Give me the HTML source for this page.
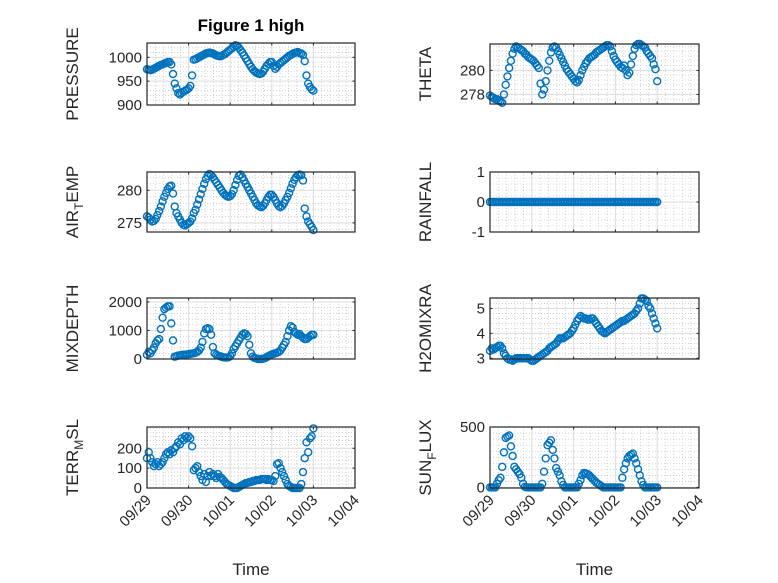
<!DOCTYPE html>
<html><head><meta charset="utf-8"><style>
html,body{margin:0;padding:0;background:#fff;}
svg{display:block;font-family:"Liberation Sans",sans-serif;}
</style></head><body>
<svg id="fig" width="778" height="583" viewBox="0 0 778 583" xmlns="http://www.w3.org/2000/svg">
<rect width="778" height="583" fill="#fff"/>
<text x="251" y="31" text-anchor="middle" font-size="17" font-weight="bold" fill="#000">Figure 1 high</text>
</svg>
<script>
const xTickLabels = ["09/29","09/30","10/01","10/02","10/03","10/04"];
const pressure = [975,974,973,974,976,978,980,982,984,985,987,988,990,990,985,965,945,935,925,922,925,928,930,932,935,940,962,995,996,998,1000,1002,1004,1006,1008,1009,1010,1009,1008,1006,1004,1003,1002,1003,1005,1007,1010,1013,1016,1019,1022,1025,1024,1020,1015,1010,1004,998,992,986,980,975,971,968,966,965,966,970,976,982,986,990,990,982,976,980,985,988,991,994,997,1000,1003,1005,1007,1009,1010,1011,1009,1008,1005,992,962,945,938,933,930];
const airTemp = [276,275.8,275.5,275.2,275.3,275.6,276.2,276.8,277.5,278.3,279,279.6,280.2,280.6,280.7,279.5,277.5,276.5,276,275.5,275,274.7,274.6,274.8,275,275.2,275.7,276.5,277,277.8,278.6,279.4,280.2,281,281.7,282.2,282.5,282.3,282,281.6,281.2,280.8,280.4,280,279.6,279.3,279.1,279,279.1,279.4,280,280.8,281.6,282.2,282.4,282,281.5,281,280.5,280,279.5,279,278.5,278,277.7,277.5,277.4,277.6,278,278.5,279,279.3,279.3,279,278.5,278,277.6,277.4,277.6,278,278.5,279,279.6,280.3,281,281.6,282,282.3,282.4,282.3,281.5,277.2,276,275.2,274.8,274.4,273.9];
const theta = [277.9,277.8,277.7,277.6,277.6,277.5,277.4,277.3,278,278.8,279.5,280.2,280.8,281.4,281.8,282,281.9,281.8,281.7,281.6,281.4,281.3,281.1,281,280.9,280.8,280.6,280.4,280.2,278.9,278,278.4,279.1,280,280.8,281.5,281.9,282,281.9,281.6,281.3,281,280.7,280.4,280.1,279.9,279.7,279.5,279.3,279.1,279,279.2,279.6,280,280.3,280.6,280.8,281,281.1,281.2,281.3,281.5,281.6,281.7,281.8,281.9,282,282.1,282.1,282,281.6,281.2,280.9,280.7,280.5,280.3,280.2,280.4,280,279.6,279.8,280.5,281.2,281.8,282.1,282.2,282.2,282.1,282,281.9,281.6,281.4,281.2,281,280.5,280.1,279.1];
const rainfall = [0,0,0,0,0,0,0,0,0,0,0,0,0,0,0,0,0,0,0,0,0,0,0,0,0,0,0,0,0,0,0,0,0,0,0,0,0,0,0,0,0,0,0,0,0,0,0,0,0,0,0,0,0,0,0,0,0,0,0,0,0,0,0,0,0,0,0,0,0,0,0,0,0,0,0,0,0,0,0,0,0,0,0,0,0,0,0,0,0,0,0,0,0,0,0,0,0];
const mixDepth = [150,250,200,300,400,550,650,700,1050,1450,1750,1800,1850,1850,1250,650,80,100,120,130,140,150,150,160,170,180,190,200,220,250,300,400,600,900,1050,1080,1050,850,420,200,150,120,100,80,60,50,50,60,100,200,350,450,550,650,750,850,900,880,800,500,200,80,40,20,0,0,0,10,30,60,100,130,160,180,200,220,250,300,400,500,600,800,1000,1150,1100,950,900,850,880,800,750,700,700,750,800,850,850];
const terrMsl = [150,180,150,130,110,120,130,110,120,130,150,170,180,170,190,180,200,210,230,220,250,240,260,250,260,250,210,90,100,110,80,60,40,70,30,60,80,60,70,60,50,70,55,50,40,30,20,15,10,5,0,0,0,5,10,15,20,25,25,30,30,35,35,40,40,40,45,45,45,40,45,40,40,35,60,120,125,100,80,60,40,20,10,5,0,0,0,0,0,20,80,150,230,180,250,260,300];
const h2oMixra = [3.3,3.4,3.35,3.4,3.45,3.5,3.5,3.4,3.2,3.1,3.0,2.95,2.95,2.9,2.95,3.0,3.0,3.0,3.0,3.0,3.0,3.0,3.0,2.95,2.9,2.9,2.95,3.0,3.05,3.1,3.15,3.2,3.25,3.3,3.4,3.45,3.5,3.55,3.6,3.7,3.8,3.8,3.8,3.85,3.9,3.95,4.0,4.1,4.2,4.35,4.5,4.6,4.7,4.65,4.6,4.6,4.55,4.55,4.6,4.6,4.5,4.4,4.3,4.2,4.1,4.05,4.0,4.05,4.1,4.15,4.2,4.25,4.3,4.35,4.4,4.45,4.5,4.5,4.55,4.6,4.65,4.7,4.75,4.8,4.9,5.0,5.2,5.4,5.4,5.35,5.3,5.1,5.0,4.8,4.6,4.4,4.2];
const sunFlux = [0,0,0,0,30,60,80,170,290,410,420,430,340,260,170,150,130,110,80,30,5,0,0,0,0,0,0,0,0,0,30,130,240,350,370,390,310,240,160,130,100,50,20,0,0,0,0,0,0,0,0,30,60,100,120,115,110,100,85,70,55,40,30,20,10,0,0,0,0,0,0,0,0,0,0,0,80,150,200,240,260,270,280,240,200,150,100,50,20,0,0,0,0,0,0,0,0];
const pressureTicks = [900,950,1000];
const airTempTicks = [275,280];
const thetaTicks = [278,280];
const rainTicks = [-1,0,1];
const mixTicks = [0,1000,2000];
const terrTicks = [0,100,200];
const h2oTicks = [3,4,5];
const sunTicks = [0,500];

const NS="http://www.w3.org/2000/svg";
const svg=document.getElementById('fig');
function mk(tag,attrs,parent){const e=document.createElementNS(NS,tag);for(const k in attrs)e.setAttribute(k,attrs[k]);(parent||svg).appendChild(e);return e;}

const panels=[
 {name:'pressure',label:['PRESSURE'],data:pressure,ticks:pressureTicks,ymin:900,ymax:1030,minorStep:10,x0:147,x1:355,y0:43,y1:105,showX:false},
 {name:'theta',label:['THETA'],data:theta,ticks:thetaTicks,ymin:277.2,ymax:282.2,minorStep:0.4,x0:490,x1:699,y0:44,y1:104,showX:false},
 {name:'air-temp',label:['AIR','T','EMP'],data:airTemp,ticks:airTempTicks,ymin:273.6,ymax:282.8,minorStep:1,x0:147,x1:355,y0:172,y1:232,showX:false},
 {name:'rainfall',label:['RAINFALL'],data:rainfall,ticks:rainTicks,ymin:-1,ymax:1,minorStep:0.2,x0:490,x1:699,y0:172,y1:232,showX:false},
 {name:'mixdepth',label:['MIXDEPTH'],data:mixDepth,ticks:mixTicks,ymin:0,ymax:2140,minorStep:200,x0:147,x1:355,y0:298,y1:359,showX:false},
 {name:'h2omixra',label:['H2OMIXRA'],data:h2oMixra,ticks:h2oTicks,ymin:2.97,ymax:5.42,minorStep:0.2,x0:490,x1:699,y0:298,y1:359,showX:false},
 {name:'terr-msl',label:['TERR','M','SL'],data:terrMsl,ticks:terrTicks,ymin:0,ymax:307,minorStep:20,x0:147,x1:355,y0:427,y1:488,showX:true},
 {name:'sun-flux',label:['SUN','F','LUX'],data:sunFlux,ticks:sunTicks,ymin:-5,ymax:500,minorStep:50,x0:490,x1:699,y0:427,y1:488,showX:true}
];

panels.forEach(p=>{
 const g=mk('g',{});
 
 
 const xs=d=>p.x0+(d/5)*(p.x1-p.x0);
 const ys=v=>p.y1-(v-p.ymin)/(p.ymax-p.ymin)*(p.y1-p.y0);
 for(let d=0;d<5;d+=0.2){const x=xs(d);if(Math.abs(d-Math.round(d))<1e-6)continue;
  mk('line',{x1:x,x2:x,y1:p.y0,y2:p.y1,stroke:'#b8b8b8','stroke-width':0.6,'stroke-dasharray':'1,2'},g);}
 const s0=Math.ceil(p.ymin/p.minorStep)*p.minorStep;
 for(let v=s0;v<p.ymax;v+=p.minorStep){const y=ys(v);
  mk('line',{x1:p.x0,x2:p.x1,y1:y,y2:y,stroke:'#b8b8b8','stroke-width':0.6,'stroke-dasharray':'1,2'},g);}
 for(let d=1;d<5;d++){const x=xs(d);mk('line',{x1:x,x2:x,y1:p.y0,y2:p.y1,stroke:'#dcdcdc','stroke-width':1},g);}
 p.ticks.forEach(v=>{const y=ys(v);mk('line',{x1:p.x0,x2:p.x1,y1:y,y2:y,stroke:'#dcdcdc','stroke-width':1},g);});
 for(let d=0;d<=5;d++){const x=xs(d);
  mk('line',{x1:x,x2:x,y1:p.y1,y2:p.y1-2.5,stroke:'#262626','stroke-width':1},g);
  mk('line',{x1:x,x2:x,y1:p.y0,y2:p.y0+2.5,stroke:'#262626','stroke-width':1},g);}
 p.ticks.forEach(v=>{const y=ys(v);
  mk('line',{x1:p.x0,x2:p.x0+2.5,y1:y,y2:y,stroke:'#262626','stroke-width':1},g);
  mk('line',{x1:p.x1,x2:p.x1-2.5,y1:y,y2:y,stroke:'#262626','stroke-width':1},g);
  const t=mk('text',{x:p.x0-5,y:y+5,'text-anchor':'end','font-size':15,fill:'#262626'},g);
  
  
  t.textContent=String(v);});
 p.data.forEach((v,i)=>{
  const c=mk('circle',{cx:xs(i/24),cy:ys(v),r:3.5,fill:'none',stroke:'#0072BD','stroke-width':1.4},g);
  
  
 });
 mk('rect',{x:p.x0,y:p.y0,width:p.x1-p.x0,height:p.y1-p.y0,fill:'none',stroke:'#262626','stroke-width':1.2},g);
 const lx=(p.x0<300?78:431), ly=(p.y0+p.y1)/2;
 const lab=mk('text',{transform:`translate(${lx},${ly}) rotate(-90)`,'text-anchor':'middle','font-size':17,fill:'#262626'},g);
 
 
 if(p.label.length===1){lab.textContent=p.label[0];}
 else{
  const a=mk('tspan',{},lab);a.textContent=p.label[0];
  const b=mk('tspan',{dy:5,'font-size':12},lab);b.textContent=p.label[1];
  const c=mk('tspan',{dy:-5},lab);c.textContent=p.label[2];
 }
 if(p.showX){
  xTickLabels.forEach((s,d)=>{const x=xs(d);
   const t=mk('text',{transform:`translate(${x+5},${p.y1+13}) rotate(-45)`,'text-anchor':'end','font-size':15,fill:'#262626'},g);
   
   
   t.textContent=s;});
  const xt=mk('text',{x:(p.x0+p.x1)/2,y:575,'text-anchor':'middle','font-size':17,fill:'#262626'},g);
  
  
  xt.textContent='Time';
 }
});
</script>
</body></html>
